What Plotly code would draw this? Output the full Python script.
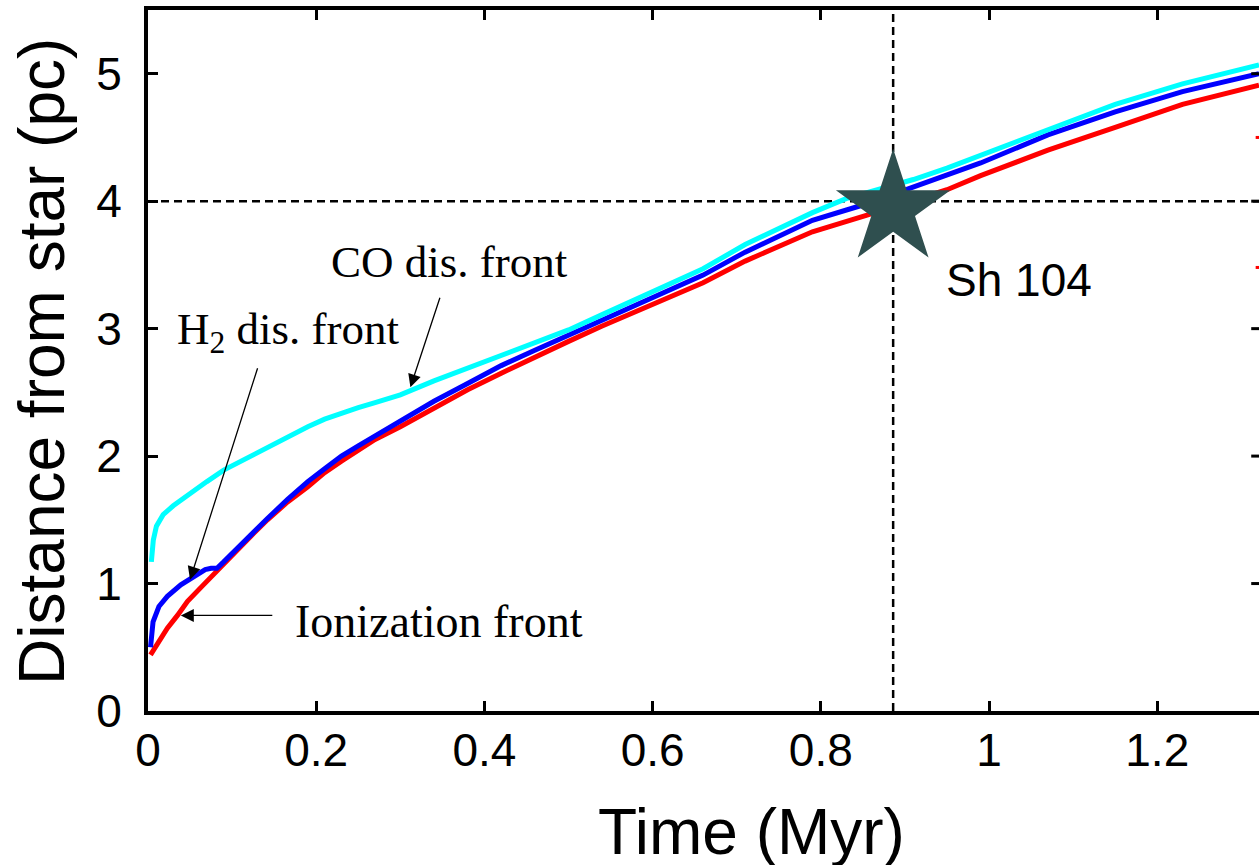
import plotly.graph_objects as go

# ---------------- data ----------------
ion_t = [0.003, 0.011, 0.023, 0.035, 0.047, 0.063, 0.083, 0.102, 0.122, 0.142, 0.166, 0.19, 0.21, 0.23,
         0.25, 0.27, 0.30, 0.34, 0.38, 0.42, 0.46, 0.50, 0.54, 0.58, 0.62, 0.66, 0.71, 0.75, 0.79, 0.855,
         0.95, 0.99, 1.07, 1.15, 1.23, 1.321]
ion_d = [0.44, 0.53, 0.65, 0.75, 0.86, 0.97, 1.11, 1.24, 1.37, 1.50, 1.64, 1.76, 1.87, 1.96,
         2.05, 2.13, 2.23, 2.38, 2.52, 2.65, 2.78, 2.90, 3.02, 3.13, 3.25, 3.36, 3.53, 3.65, 3.76, 3.89,
         4.09, 4.20, 4.40, 4.58, 4.76, 4.91]

h2_t = [0.003, 0.006, 0.013, 0.023, 0.039, 0.055, 0.068, 0.075, 0.082, 0.09, 0.102, 0.122, 0.142, 0.166,
        0.19, 0.21, 0.23, 0.25, 0.27, 0.30, 0.34, 0.38, 0.42, 0.46, 0.50, 0.54, 0.58, 0.62, 0.66, 0.71,
        0.75, 0.79, 0.85, 0.91, 0.95, 0.99, 1.07, 1.15, 1.23, 1.321]
h2_d = [0.50, 0.70, 0.82, 0.90, 0.99, 1.05, 1.11, 1.12, 1.12, 1.17, 1.25, 1.39, 1.51, 1.66,
        1.80, 1.90, 2.00, 2.08, 2.16, 2.27, 2.43, 2.57, 2.71, 2.83, 2.95, 3.07, 3.19, 3.30, 3.42, 3.60,
        3.73, 3.85, 3.97, 4.11, 4.21, 4.30, 4.52, 4.70, 4.86, 5.00]

co_t = [0.004, 0.0063, 0.010, 0.018, 0.030, 0.050, 0.070, 0.090, 0.11, 0.13, 0.15, 0.17, 0.19, 0.21,
        0.23, 0.25, 0.27, 0.30, 0.34, 0.38, 0.42, 0.46, 0.50, 0.54, 0.58, 0.62, 0.66, 0.71, 0.75, 0.79,
        0.83, 0.91, 0.95, 0.99, 1.07, 1.15, 1.23, 1.321]
co_d = [1.17, 1.34, 1.45, 1.54, 1.61, 1.71, 1.80, 1.89, 1.96, 2.03, 2.10, 2.17, 2.23, 2.29,
        2.34, 2.38, 2.42, 2.48, 2.59, 2.69, 2.78, 2.88, 2.99, 3.11, 3.23, 3.35, 3.47, 3.66, 3.79, 3.91,
        4.02, 4.17, 4.26, 4.36, 4.57, 4.76, 4.92, 5.07]

sh104_t = [0.886]
sh104_d = [3.94]
sh104_ref_d = 4.0

x_tickvals = [0, 0.2, 0.4, 0.6, 0.8, 1.0, 1.2]
x_ticktext = ["0", "0.2", "0.4", "0.6", "0.8", "1", "1.2"]
y_tickvals = [0, 1, 2, 3, 4, 5]
y_ticktext = ["0", "1", "2", "3", "4", "5"]

# cut-off right frame: mirrored y ticks and two red marks peeking in at the edge
right_tick_d = [1, 2, 3, 4, 5]
right_red_d = [4.50, 3.48]

X_MAX = 1.321
Y_MAX = 5.5

# ---------------- figure ----------------
fig = go.Figure()

fig.add_trace(go.Scatter(x=ion_t, y=ion_d, mode="lines", name="Ionization front",
                         line=dict(color="#ff0000", width=5)))
fig.add_trace(go.Scatter(x=h2_t, y=h2_d, mode="lines", name="H2 dis. front",
                         line=dict(color="#0000ff", width=5)))
fig.add_trace(go.Scatter(x=co_t, y=co_d, mode="lines", name="CO dis. front",
                         line=dict(color="#00ffff", width=5)))
fig.add_trace(go.Scatter(x=sh104_t, y=sh104_d, mode="markers", name="Sh 104",
                         marker=dict(symbol="star", size=86, color="#2f4f4f",
                                     line=dict(width=0))))

# dashed reference lines through Sh 104
fig.add_shape(type="line", xref="x", yref="y", x0=0, x1=X_MAX, y0=sh104_ref_d, y1=sh104_ref_d,
              line=dict(color="black", width=2.5, dash="8px,5px"), layer="below")
fig.add_shape(type="line", xref="x", yref="y", x0=sh104_t[0], x1=sh104_t[0], y0=0, y1=Y_MAX,
              line=dict(color="black", width=2.5, dash="8px,5px"), layer="below")

for d in right_tick_d:
    fig.add_shape(type="line", xref="paper", yref="y", x0=0.993, x1=1.0, y0=d, y1=d,
                  line=dict(color="black", width=3))
for d in right_red_d:
    fig.add_shape(type="line", xref="paper", yref="y", x0=0.997, x1=1.0, y0=d, y1=d,
                  line=dict(color="#ff0000", width=3))

serif = "Liberation Serif, Times New Roman, serif"
sans = "Liberation Sans, Arial, Helvetica, sans-serif"

annotations = [
    # labels
    dict(x=0.359, y=3.52, xref="x", yref="y", text="CO dis. front", showarrow=False,
         font=dict(family=serif, size=45, color="black"), xanchor="center", yanchor="middle"),
    dict(x=0.032, y=2.97, xref="x", yref="y", text="H<sub>2</sub> dis. front", showarrow=False,
         font=dict(family=serif, size=45, color="black"), xanchor="left", yanchor="middle"),
    dict(x=0.172, y=0.70, xref="x", yref="y", text="Ionization front", showarrow=False,
         font=dict(family=serif, size=46, color="black"), xanchor="left", yanchor="middle"),
    dict(x=1.036, y=3.38, xref="x", yref="y", text="Sh 104", showarrow=False,
         font=dict(family=sans, size=46, color="black"), xanchor="center", yanchor="middle"),
    # arrows
    dict(x=0.312, y=2.54, xref="x", yref="y", text="", showarrow=True, ax=30, ay=-91,
         arrowhead=2, arrowsize=2, arrowwidth=1.3, arrowcolor="black", standoff=0),
    dict(x=0.050, y=1.03, xref="x", yref="y", text="", showarrow=True, ax=68, ay=-213,
         arrowhead=2, arrowsize=2, arrowwidth=1.3, arrowcolor="black", standoff=0),
    dict(x=0.039, y=0.75, xref="x", yref="y", text="", showarrow=True, ax=93, ay=0,
         arrowhead=2, arrowsize=2, arrowwidth=1.3, arrowcolor="black", standoff=0),
    # axis titles
    dict(x=0.543, y=-0.172, xref="paper", yref="paper", text="Time (Myr)", showarrow=False,
         font=dict(family=sans, size=64, color="black"), xanchor="center", yanchor="middle"),
    dict(x=-0.0954, y=0.498, xref="paper", yref="paper", text="Distance from star (pc)",
         showarrow=False, textangle=-90,
         font=dict(family=sans, size=64, color="black"), xanchor="center", yanchor="middle"),
]

axis_common = dict(showgrid=False, zeroline=False, showline=True, linecolor="black", linewidth=4,
                   ticks="inside", ticklen=10, tickwidth=3, tickcolor="black",
                   tickfont=dict(family=sans, size=46, color="black"))

fig.update_layout(
    width=1259, height=865,
    margin=dict(l=148, r=0, t=10, b=154),
    paper_bgcolor="white", plot_bgcolor="white",
    showlegend=False,
    annotations=annotations,
    xaxis=dict(range=[0, X_MAX], tickvals=x_tickvals, ticktext=x_ticktext, mirror="ticks",
               ticklabelstandoff=-4, **axis_common),
    yaxis=dict(range=[0, Y_MAX], tickvals=y_tickvals, ticktext=y_ticktext, mirror=False,
               ticklabelstandoff=13, **axis_common),
)

fig.write_html("out.html")
